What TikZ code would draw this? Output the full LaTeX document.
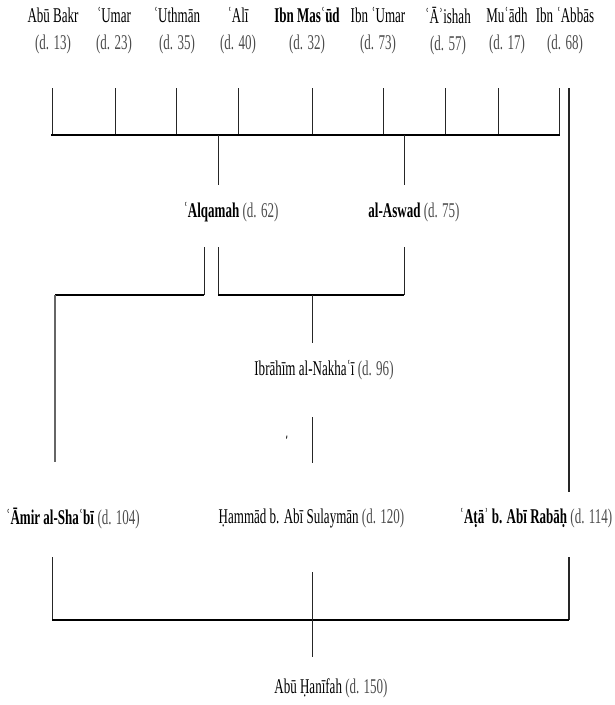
\documentclass[tikz,border=0pt]{standalone}
\usepackage{fontspec}
\setmainfont{Liberation Serif}[FakeStretch=0.62]
\newcommand\dte[1]{\textcolor{black!70}{#1}}
\begin{document}
\begin{tikzpicture}[x=1pt,y=-1pt,
  nm/.style={font=\fontsize{21}{27}\selectfont, inner sep=0pt, align=center},
  link/.style={line width=1pt, black!85},
  rule/.style={line width=1.8pt, line cap=rect}]
\useasboundingbox (0,0) rectangle (615,705);

% Companions
\node[nm] (ab) at (53,31)  {Abū Bakr\\\dte{(d. 13)}};
\node[nm] (um) at (114,31) {ʿUmar\\\dte{(d. 23)}};
\node[nm] (ut) at (177,31) {ʿUthmān\\\dte{(d. 35)}};
\node[nm] (al) at (238,31) {ʿAlī\\\dte{(d. 40)}};
\node[nm] (im) at (307,31) {\textbf{Ibn Masʿūd}\\\dte{(d. 32)}};
\node[nm] (iu) at (378,31) {Ibn ʿUmar\\\dte{(d. 73)}};
\node[nm] (ai) at (448,31) {ʿĀʾishah\\\dte{(d. 57)}};
\node[nm] (mu) at (507,31) {Muʿādh\\\dte{(d. 17)}};
\node[nm] (ia) at (565,31) {Ibn ʿAbbās\\\dte{(d. 68)}};

% Successors
\node[nm] (alq) at (231,212) {\textbf{ʿAlqamah} \dte{(d. 62)}};
\node[nm] (asw) at (414,212) {\textbf{al-Aswad} \dte{(d. 75)}};
\node[nm] (ibr) at (324,370) {Ibrāhīm al-Nakhaʿī \dte{(d. 96)}};
\node[nm] (amr) at (73,518)  {\textbf{ʿĀmir al-Shaʿbī} \dte{(d. 104)}};
\node[nm] (ham) at (311.5,518) {Ḥammād b. Abī Sulaymān \dte{(d. 120)}};
\node[nm] (ata) at (536,518) {\textbf{ʿAṭāʾ b. Abī Rabāḥ} \dte{(d. 114)}};
\node[nm] (abh) at (331,688) {Abū Ḥanīfah \dte{(d. 150)}};

% Drop lines from the companions to the common rule
\coordinate (tA) at (0,88);
\coordinate (tB) at (0,135);
\coordinate (abx) at (52,0);   \coordinate (umx) at (115,0);
\coordinate (utx) at (176,0);  \coordinate (alx) at (238,0);
\coordinate (imx) at (312,0);  \coordinate (iux) at (383,0);
\coordinate (aix) at (445,0);  \coordinate (mux) at (498,0);
\coordinate (iax) at (559,0);
\foreach \c in {abx,umx,utx,alx,imx,iux,aix,mux,iax}
  \draw[link] (\c |- tA) -- (\c |- tB);
\draw[rule] (abx |- tB) -- (iax |- tB);

% Ibn Abbas straight down to Ata
\coordinate (ataN) at (569,88);
\coordinate (ataS) at (569,492);
\draw[link, line width=1.3pt] (ataN) -- (ataS);

% Rule down to Alqamah and al-Aswad
\coordinate (alqN) at (218,185);
\coordinate (aswN) at (404,185);
\draw[link] (alqN |- tB) -- (alqN);
\draw[link] (aswN |- tB) -- (aswN);

% Alqamah down to Amir
\coordinate (alqS1) at (204,247);
\coordinate (amrN) at (55,462);
\draw[link] (alqS1) -- (alqS1 |- 0,295);
\draw[rule, line width=1.5pt, line cap=butt] (alqS1 |- 0,295) -- (amrN |- 0,295);
\draw[link, line width=1.4pt, black!60] (amrN |- 0,295) -- (amrN);

% Alqamah and al-Aswad joined to Ibrahim
\coordinate (alqS2) at (218,247);
\coordinate (aswS) at (404,247);
\coordinate (ibrN) at (312,343);
\draw[link] (alqS2) -- (alqS2 |- 0,295);
\draw[link] (aswS) -- (aswS |- 0,295);
\draw[rule, line width=1.5pt, line cap=butt] (alqS2 |- 0,295) -- (aswS |- 0,295);
\draw[link] (ibrN |- 0,295) -- (ibrN);

% Ibrahim down to Hammad
\coordinate (ibrS) at (312,417);
\coordinate (hamN) at (312,463);
\draw[link] (ibrS) -- (hamN);
\draw[line width=0.8pt] (287,435.5) -- (286.5,438.5);

% Amir, Hammad and Ata down to Abu Hanifah
\coordinate (amrS) at (52,557);
\coordinate (ataS2) at (569,557);
\coordinate (hamS) at (312,572);
\coordinate (abhN) at (312,657);
\draw[link] (amrS) -- (amrS |- 0,620);
\draw[link, line width=1.4pt] (ataS2) -- (ataS2 |- 0,620);
\draw[rule, line width=1.6pt, line cap=butt] (amrS |- 0,620) -- (ataS2 |- 0,620);
\draw[link] (hamS) -- (abhN);
\end{tikzpicture}
\end{document}
